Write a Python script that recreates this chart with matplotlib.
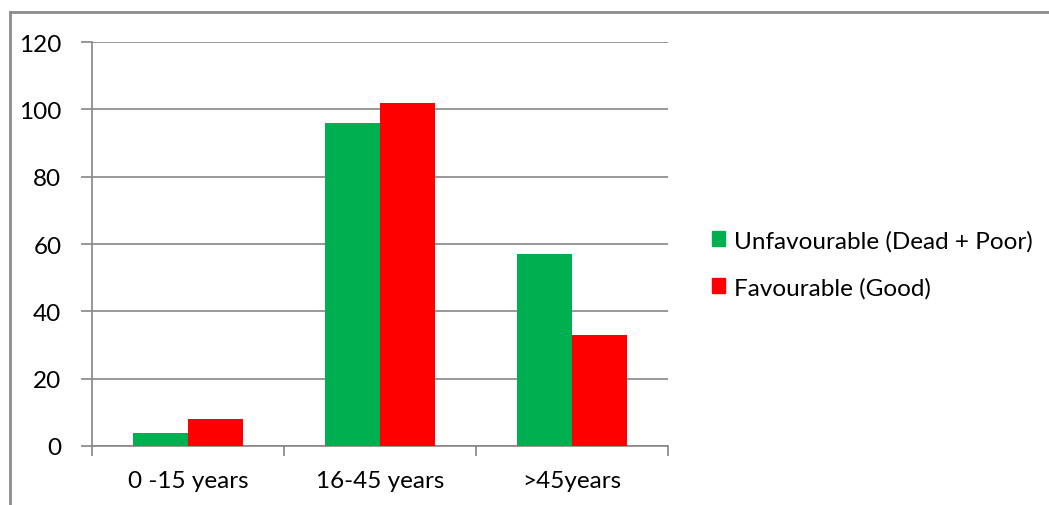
import matplotlib
matplotlib.use("Agg")
import matplotlib.pyplot as plt
import numpy as np
from matplotlib.lines import Line2D
from matplotlib.patches import Patch

categories = ["0 -15 years", "16-45 years", ">45years"]
unfavourable = [4, 96, 57]
favourable = [8, 102, 33]
series_names = ["Unfavourable (Dead + Poor)", "Favourable (Good)"]
y_ticks = [0, 20, 40, 60, 80, 100, 120]

plt.rcParams['font.family'] = ['Lato', 'DejaVu Sans']
GREEN = "#00B050"
RED = "#FF0000"
GRID = "#868686"
FS = 17.5

fig = plt.figure(figsize=(10.49, 5.06), dpi=100)
ax = fig.add_axes([92 / 1049, 1 - 447 / 506, (668 - 92) / 1049, (447 - 43) / 506])

x = np.arange(len(categories))
w = 0.286
ax.bar(x - w / 2, unfavourable, width=w, color=GREEN, label=series_names[0], zorder=3)
ax.bar(x + w / 2, favourable, width=w, color=RED, label=series_names[1], zorder=3)

ax.set_xlim(-0.5, len(categories) - 0.5)
ax.set_ylim(0, 120)
ax.set_yticks(y_ticks)
ax.set_yticklabels([str(v) for v in y_ticks], fontsize=FS)
ax.yaxis.grid(True, color=GRID, linewidth=1.2, zorder=0)
ax.set_axisbelow(True)

ax.set_xticks(x)
ax.set_xticklabels(categories, fontsize=FS)
ax.tick_params(axis='x', length=0, pad=17)
ax.tick_params(axis='y', length=8, color=GRID, width=1.2, pad=14)
# category separators on the x axis
ax.set_xticks(np.arange(len(categories) + 1) - 0.5, minor=True)
ax.tick_params(axis='x', which='minor', length=7, color=GRID, width=1.2)

for s in ['top', 'right']:
    ax.spines[s].set_visible(False)
for s in ['left', 'bottom']:
    ax.spines[s].set_color(GRID)
    ax.spines[s].set_linewidth(1.2)

handles = [Patch(color=GREEN), Patch(color=RED)]
fig.legend(handles, series_names, loc='center left',
           bbox_to_anchor=(690 / 1049, 1 - 265 / 506), frameon=False,
           fontsize=FS, handlelength=0.55, handleheight=0.55,
           handletextpad=0.35, labelspacing=1.05)

# outer chart frame (left and top edges)
fig.add_artist(Line2D([10 / 1049, 10 / 1049], [0, 1 - 13 / 506],
                      color="#8C8C8C", linewidth=2, transform=fig.transFigure))
fig.add_artist(Line2D([10 / 1049, 1], [1 - 13 / 506, 1 - 13 / 506],
                      color="#8C8C8C", linewidth=2, transform=fig.transFigure))

fig.savefig("out.png", dpi=100)
